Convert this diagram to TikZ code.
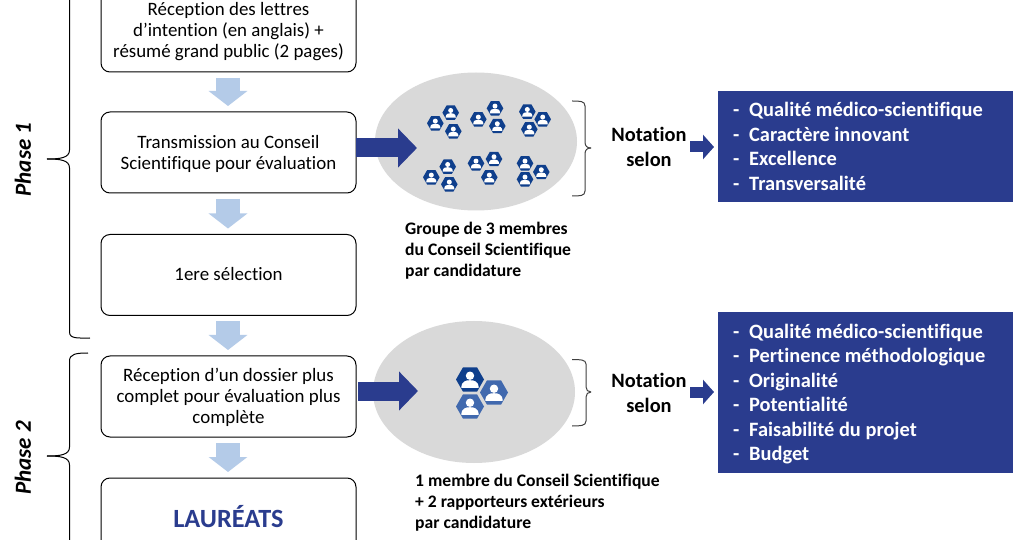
\documentclass[tikz,border=0pt]{standalone}
\usepackage{fontspec}
\setmainfont[Ligatures=NoCommon]{Carlito}
\usetikzlibrary{arrows.meta,shapes.geometric}
\definecolor{navy}{HTML}{2A3C8E}
\definecolor{palearrow}{HTML}{B4CBE8}
\definecolor{hexdark}{HTML}{0F3F8C}
\definecolor{hexmid}{HTML}{4169AE}
\definecolor{blob}{HTML}{D9D9D9}
\tikzset{
  x=1pt,y=-1pt,
  stepbox/.style={draw=black,line width=1pt,rounded corners=9pt,fill=white,minimum width=255pt,inner sep=0pt},
  boxtext/.style={align=center,inner sep=0pt,font=\fontsize{18.9}{21}\selectfont},
  blobshape/.style={ellipse,fill=blob,minimum width=202pt,inner sep=0pt},
  downarrow/.style={draw=palearrow,line width=24pt,-{Triangle[length=15pt,width=38pt]},shorten <=5.5pt,shorten >=5.5pt},
  bigarrow/.style={draw=navy,line width=19pt,-{Triangle[length=19pt,width=38pt]}},
  smallarrow/.style={draw=navy,line width=11pt,-{Triangle[length=11pt,width=24pt]}},
  listbox/.style={fill=navy,inner sep=0pt,anchor=north west},
  listtext/.style={text=white,anchor=base west,inner sep=0pt,font=\bfseries\fontsize{20.4}{24.5}\selectfont,align=left},
  caption/.style={anchor=north west,inner sep=0pt,align=left,font=\bfseries\fontsize{17.6}{21}\selectfont},
  notation/.style={inner sep=0pt,align=center,font=\bfseries\fontsize{20.4}{24.5}\selectfont},
  phaselabel/.style={rotate=90,inner sep=0pt,font=\bfseries\itshape\fontsize{23}{26}\selectfont},
  bracket/.style={draw=black,line width=1pt},
  rbracket/.style={draw=black!75,line width=1pt},
  pics/member/.style 2 args={code={
    \fill[#2] (-#1,0) -- (-#1/2,-#1*.87) -- (#1/2,-#1*.87) -- (#1,0) -- (#1/2,#1*.87) -- (-#1/2,#1*.87) -- cycle;
    \fill[white] (0,-#1*.27) circle[radius=#1*.3];
    \fill[white] (-#1*.62,#1*.6) .. controls (-#1*.62,#1*.1) and (-#1*.25,#1*.05) .. (0,#1*.05)
      .. controls (#1*.25,#1*.05) and (#1*.62,#1*.1) .. (#1*.62,#1*.6) -- cycle;
  }}
}
\begin{document}
\begin{tikzpicture}
\useasboundingbox (0,0) rectangle (1013,540);
\clip (0,0) rectangle (1013,540);
\fill[white] (0,0) rectangle (1013,540);

% ellipses
\node[blobshape,minimum height=138pt] (blobA) at (476,141.5) {};
\node[blobshape,minimum height=142pt] (blobB) at (474,392) {};

% step boxes
\node[stepbox,minimum height=83pt] (boxA) at (228.5,30.5) {};
\node[stepbox,minimum height=81pt] (boxB) at (228.5,152.5) {};
\node[stepbox,minimum height=81pt] (boxC) at (228.5,275) {};
\node[stepbox,minimum height=81pt] (boxD) at (228.5,396.5) {};
\node[stepbox,minimum height=82pt] (boxE) at (228.5,519) {};
\node[boxtext] (textA) at (228.5,32) {Réception des lettres\\d’intention (en anglais) +\\résumé grand public (2 pages)};
\node[boxtext] (textB) at (228.5,154) {Transmission au Conseil\\Scientifique pour évaluation};
\node[boxtext] (textC) at (228.5,274) {1ere sélection};
\node[boxtext] (textD) at (228.5,397) {Réception d’un dossier plus\\complet pour évaluation plus\\complète};
\node[boxtext,text=navy,font=\bfseries\fontsize{26.3}{30}\selectfont] (textE) at (228.5,516.5) {LAURÉATS};

% downward arrows
\draw[downarrow] ([xshift=-.5pt]boxA.south) -- ([xshift=-.5pt]boxB.north);
\draw[downarrow] ([xshift=-.5pt]boxB.south) -- ([xshift=-.5pt]boxC.north);
\draw[downarrow] ([xshift=-.5pt]boxC.south) -- ([xshift=-.5pt]boxD.north);
\draw[downarrow] ([xshift=-.5pt]boxD.south) -- ([xshift=-.5pt]boxE.north);

% big arrows
\coordinate (bigAs) at (356,148);
\coordinate (bigAe) at (417,148);
\coordinate (bigBs) at (358,391);
\coordinate (bigBe) at (418,391);
\draw[bigarrow] (bigAs) -- (bigAe);
\draw[bigarrow] (bigBs) -- (bigBe);

% member icons, first ellipse
\foreach \px/\py in {450.7/112.7,435.3/123.3,453.3/131.3,495/108.3,478.3/119.3,497.3/126,
  527.3/111.7,542.7/119.3,529.3/129.3,447.7/166.7,431.3/177.3,449.3/184.3,
  494/159,476/163.3,489.3/177.3,525/163.3,541.3/172,525/179.3}
  \pic at (\px,\py) {member={8.3}{hexdark}};
% member icons, second ellipse
\pic at (470,379.5) {member={14}{hexdark}};
\pic at (494,392.5) {member={14}{hexmid}};
\pic at (470,406.5) {member={14}{hexmid}};

% left braces
\coordinate (phA) at (47,159);
\coordinate (phB) at (47,456);
\draw[bracket] (90,338) .. controls (78,338) and (69.5,339) .. (69.5,332) -- (69.5,168)
  .. controls (69.5,160) and (60,159) .. (phA);
\draw[bracket] (90,-20) .. controls (78,-20) and (69.5,-21) .. (69.5,-14) -- (69.5,150)
  .. controls (69.5,158) and (60,159) .. (phA);
\draw[bracket] (88,353) .. controls (76,353) and (69.5,354) .. (69.5,361) -- (69.5,447)
  .. controls (69.5,455) and (60,456) .. (phB);
\draw[bracket] (88,559) .. controls (76,559) and (69.5,558) .. (69.5,551) -- (69.5,465)
  .. controls (69.5,457) and (60,456) .. (phB);
\node[phaselabel] (phaseA) at (23,159.5) {Phase 1};
\node[phaselabel] (phaseB) at (23,458) {Phase 2};

% right braces
\coordinate (rbA) at (591,148);
\coordinate (rbB) at (591,392);
\draw[rbracket] (572,101) .. controls (580,101) and (585,101) .. (585,106) -- (585,142) .. controls (585,146) and (587,148) .. (rbA);
\draw[rbracket] (572,196) .. controls (580,196) and (585,196) .. (585,191) -- (585,154) .. controls (585,150) and (587,148) .. (rbA);
\draw[rbracket] (572,359.5) .. controls (580,359.5) and (586,359.5) .. (586,364) -- (586,387) .. controls (586,390) and (588,392) .. (rbB);
\draw[rbracket] (572,426) .. controls (580,426) and (586,426) .. (586,421) -- (586,397) .. controls (586,394) and (588,392) .. (rbB);

% notation labels
\node[notation] (noteA) at (649,147) {Notation\\selon};
\node[notation] (noteB) at (649,393) {Notation\\selon};

% list boxes
\node[listbox,minimum width=295pt,minimum height=111pt] (listA) at (718,91) {};
\node[listbox,minimum width=295pt,minimum height=161pt] (listB) at (718,312) {};
\coordinate (smAs) at (690,147);
\coordinate (smBs) at (690,392);
\coordinate (smAe) at (714,147);
\coordinate (smBe) at (714,392);
\draw[smallarrow] (smAs) -- (smAe);
\draw[smallarrow] (smBs) -- (smBe);

\foreach \nm/\ty/\tx in {la/117/Qualité médico-scientifique,lb/141.5/Caractère innovant,lc/166/Excellence,ld/190.5/Transversalité,
  ma/338/Qualité médico-scientifique,mb/362.5/Pertinence méthodologique,mc/387/Originalité,md/411.5/Potentialité,me/436/Faisabilité du projet,mf/460.5/Budget}{
  \node[listtext] (dash\nm) at (733,\ty) {-};
  \node[listtext] (item\nm) at (749,\ty) {\tx};
}

% captions
\node[caption] (capA) at (405,222) {Groupe de 3 membres\\du Conseil Scientifique\\par candidature};
\node[caption] (capB) at (415,474) {1 membre du Conseil Scientifique\\+ 2 rapporteurs extérieurs\\par candidature};
\end{tikzpicture}
\end{document}
